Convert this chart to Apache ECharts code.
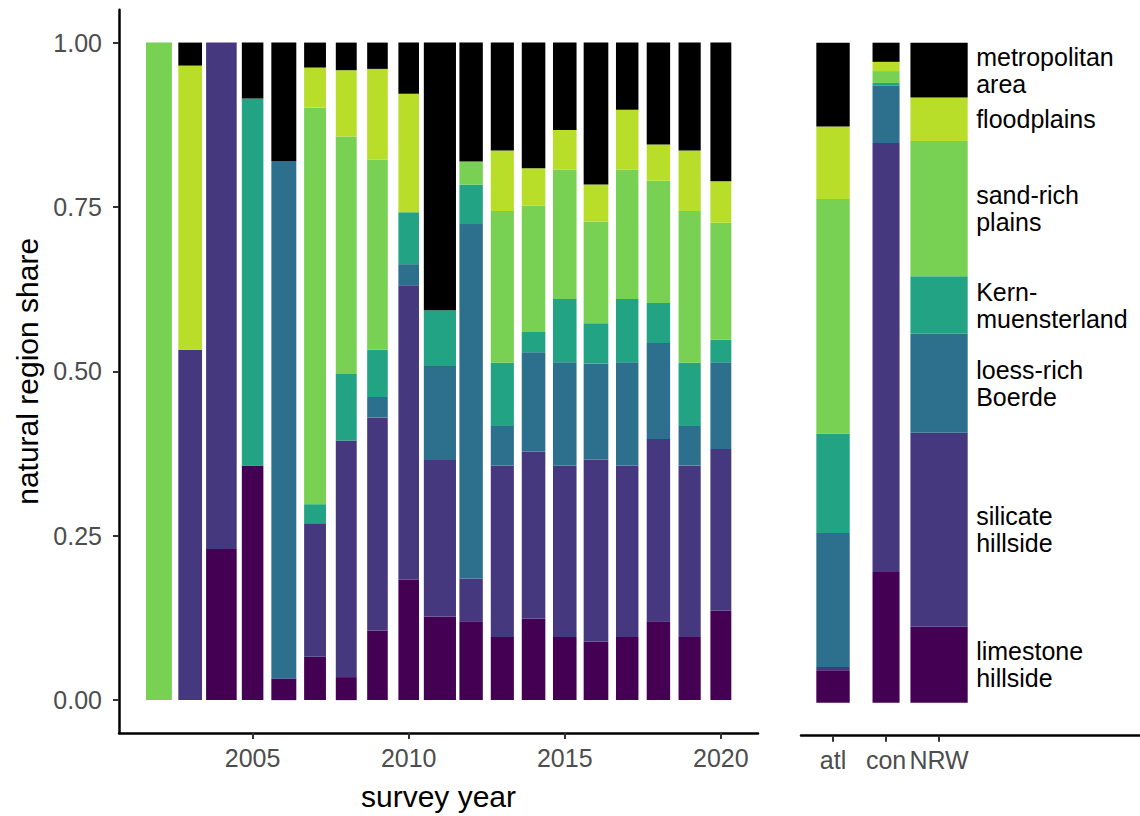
<!DOCTYPE html>
<html>
<head>
<meta charset="utf-8">
<script src="https://cdn.jsdelivr.net/npm/echarts@6/dist/echarts.min.js"></script>
<style>
  html, body { margin: 0; padding: 0; background: #fff; }
  #chart { width: 1140px; height: 816px; }
</style>
</head>
<body>
<div id="chart"></div>
<script>
// ---------- data (bottom-to-top stacking order) ----------
const regionLabels = ['limestone\nhillside', 'silicate\nhillside', 'loess-rich\nBoerde', 'Kern-\nmuensterland', 'sand-rich\nplains', 'floodplains', 'metropolitan\narea'];
const regionColors = ['#440154', '#46387F', '#2D708E', '#22A384', '#78D153', '#B8DE29', '#000000'];

const years      = [2002, 2003, 2004, 2005, 2006, 2007, 2008, 2009, 2010, 2011, 2012, 2013, 2014, 2015, 2016, 2017, 2018, 2019, 2020];
const yearWidths = [0.83, 0.76, 0.98, 0.69, 0.80, 0.70, 0.67, 0.66, 0.66, 1.03, 0.75, 0.74, 0.755, 0.755, 0.79, 0.72, 0.75, 0.71, 0.67];

const limestone  = [0,     0,     0.230, 0.357, 0.033, 0.066, 0.035, 0.106, 0.183, 0.127, 0.120, 0.096, 0.124, 0.096, 0.089, 0.096, 0.120, 0.096, 0.136];
const silicate   = [0,     0.533, 0.770, 0,     0,     0.203, 0.360, 0.324, 0.448, 0.238, 0.065, 0.261, 0.254, 0.261, 0.277, 0.261, 0.277, 0.261, 0.246];
const loess      = [0,     0,     0,     0,     0.787, 0,     0,     0.031, 0.032, 0.143, 0.539, 0.060, 0.151, 0.157, 0.146, 0.157, 0.146, 0.060, 0.132];
const kern       = [0,     0,     0,     0.558, 0,     0.029, 0.101, 0.072, 0.079, 0.085, 0.060, 0.096, 0.031, 0.096, 0.061, 0.096, 0.061, 0.096, 0.034];
const sandPlains = [1.0,   0,     0,     0,     0,     0.603, 0.361, 0.289, 0,     0,     0.035, 0.231, 0.192, 0.197, 0.155, 0.197, 0.186, 0.231, 0.178];
const floodplain = [0,     0.432, 0,     0,     0,     0.061, 0.101, 0.138, 0.180, 0,     0,     0.092, 0.057, 0.060, 0.056, 0.091, 0.055, 0.092, 0.063];
const metro      = [0,     0.035, 0,     0.085, 0.180, 0.038, 0.042, 0.040, 0.078, 0.407, 0.181, 0.164, 0.191, 0.133, 0.216, 0.102, 0.155, 0.164, 0.211];

const refGroups  = ['atl', 'con', 'NRW'];
const refWidths  = [0.63, 0.51, 1.08];
const atlShares  = [0.049, 0.005, 0.203, 0.151, 0.355, 0.110, 0.127];
const conShares  = [0.198, 0.650, 0.087, 0.004, 0.018, 0.014, 0.029];
const nrwShares  = [0.115, 0.294, 0.150, 0.087, 0.205, 0.066, 0.083];

const yTicks    = [0, 0.25, 0.5, 0.75, 1];
const yearTicks = [2005, 2010, 2015, 2020];

// ---------- build stacked tables ----------
const yearRegions = [limestone, silicate, loess, kern, sandPlains, floodplain, metro];
const refTable = [atlShares, conShares, nrwShares];

function stackYears() {
  const out = regionLabels.map(() => []);
  years.forEach((yr, i) => {
    let base = 0;
    yearRegions.forEach((arr, r) => {
      const v = arr[i];
      out[r].push([yr, base, base + v, yearWidths[i]]);
      base += v;
    });
  });
  return out;
}
function stackRef() {
  const out = regionLabels.map(() => []);
  refTable.forEach((shares, g) => {
    let base = 0;
    shares.forEach((v, r) => {
      out[r].push([g + 1, base, base + v, refWidths[g]]);
      base += v;
    });
  });
  return out;
}
const yearStack = stackYears();
const refStack = stackRef();

const FONT = '"Liberation Sans", Arial, sans-serif';
const LABEL_X = 3.7;

function renderSeg(params, api) {
  const x = api.value(0), y0 = api.value(1), y1 = api.value(2), w = api.value(3);
  if (y1 - y0 <= 0) return null;
  const a = api.coord([x - w / 2, y1]);
  const b = api.coord([x + w / 2, y0]);
  return {
    type: 'rect',
    shape: { x: a[0], y: a[1], width: b[0] - a[0], height: b[1] - a[1] },
    style: { fill: api.visual('color') }
  };
}

const series = [];
regionLabels.forEach((name, r) => {
  series.push({
    type: 'custom', name: name, xAxisIndex: 0, yAxisIndex: 0,
    itemStyle: { color: regionColors[r] },
    renderItem: renderSeg, encode: { x: 0, y: [1, 2] },
    data: yearStack[r], silent: true
  });
  series.push({
    type: 'custom', name: name + '_ref', xAxisIndex: 1, yAxisIndex: 1,
    itemStyle: { color: regionColors[r] },
    renderItem: renderSeg, encode: { x: 0, y: [1, 2] },
    data: refStack[r], silent: true
  });
});

// labels beside the NRW bar, vertically centred on each NRW segment
const nrwMids = refStack.map(rows => [(rows[2][1] + rows[2][2]) / 2]);
series.push({
  type: 'custom', name: 'labels', xAxisIndex: 1, yAxisIndex: 1,
  encode: { y: 0 },
  data: nrwMids, silent: true,
  renderItem: function (params, api) {
    const p = api.coord([LABEL_X, api.value(0)]);
    return {
      type: 'text', x: p[0], y: p[1],
      style: {
        text: regionLabels[params.dataIndex], fill: '#000',
        fontSize: 25, lineHeight: 27, fontFamily: FONT,
        align: 'left', verticalAlign: 'middle'
      }
    };
  }
});

const axisLine = { show: true, onZero: false, lineStyle: { color: '#000', width: 2.5 } };
const axisTick = { show: true, length: 6, lineStyle: { color: '#333', width: 2 } };
const tickLabel = { color: '#4D4D4D', fontSize: 25, fontFamily: FONT };

const option = {
  animation: false,
  backgroundColor: '#fff',
  grid: [
    { left: 119, right: 382, top: 9.7, bottom: 80.3 },
    { left: 801, right: 0, top: 9.7, bottom: 80.3 }
  ],
  xAxis: [
    {
      type: 'value', gridIndex: 0, min: 2000.72, max: 2021.19,
      name: 'survey year', nameLocation: 'middle', nameGap: 48,
      nameTextStyle: { color: '#000', fontSize: 30, fontFamily: FONT },
      axisLine: axisLine,
      axisTick: Object.assign({ customValues: yearTicks }, axisTick),
      axisLabel: Object.assign({ customValues: yearTicks, margin: 12, formatter: v => String(v) }, tickLabel),
      splitLine: { show: false }
    },
    {
      type: 'value', gridIndex: 1, min: 0.396, max: 6.79,
      axisLine: axisLine,
      axisTick: Object.assign({ customValues: [1, 2, 3] }, axisTick),
      axisLabel: Object.assign({ customValues: [1, 2, 3], margin: 12, formatter: v => refGroups[Math.round(v) - 1] || '' }, tickLabel),
      splitLine: { show: false }
    }
  ],
  yAxis: [
    {
      type: 'value', gridIndex: 0, min: -0.05, max: 1.05,
      name: 'natural region share', nameLocation: 'middle', nameGap: 66,
      nameTextStyle: { color: '#000', fontSize: 30, fontFamily: FONT },
      axisLine: axisLine,
      axisTick: Object.assign({ customValues: yTicks }, axisTick),
      axisLabel: Object.assign({ customValues: yTicks, margin: 17, formatter: v => v.toFixed(2) }, tickLabel),
      splitLine: { show: false }
    },
    {
      type: 'value', gridIndex: 1, min: -0.05, max: 1.05, show: false,
      splitLine: { show: false }
    }
  ],
  series: series
};

const chart = echarts.init(document.getElementById('chart'), null, { renderer: 'svg' });
chart.setOption(option);
</script>
</body>
</html>
